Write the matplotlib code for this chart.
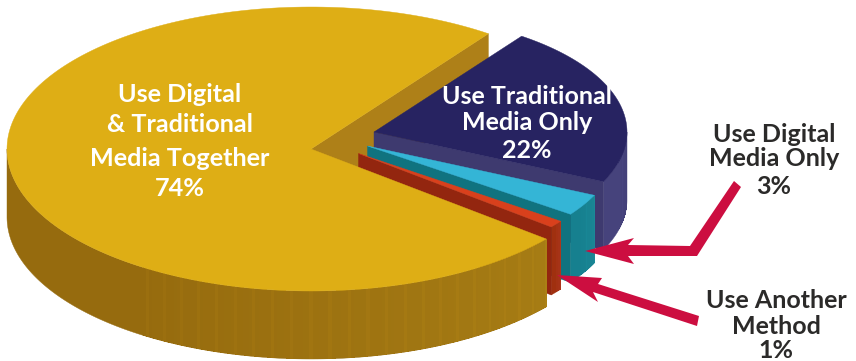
# Exploded 3D pie of how respondents combine digital and traditional media.

import numpy as np
import matplotlib
matplotlib.use('Agg')
import matplotlib.pyplot as plt
from matplotlib.colors import to_rgb

# shares in percent, clockwise from the back cut of the large slice
categories = ['Use Traditional Media Only', 'Use Digital Media Only',
              'Use Another Method', 'Use Digital & Traditional Media Together']
shares = [22, 3, 1, 74]
labels = ['22%', '3%', '1%', '74%']

START_ANGLE = 54.3
DEPTH = 68

# apex x, apex y, x radius, y radius for each slice
slice_geom = [
    (374, 132, 253, 118),
    (367.5, 146, 250, 117),
    (358.5, 153.5, 249, 116),
    (311, 149, 304, 142),
]
top_colors = ['#272361', '#34B5D6', '#D9401C', '#DEAE15']
cut_colors = ['#3E3A6F', '#10737F', '#93260F', '#AE8018']
rim_colors = [('#423F78', '#46437C'), ('#1A8594', '#16808F'),
              ('#A8341A', '#A0300F'), ('#A67C14', '#966B0E')]


def rim_points(geom, a0, a1, n):
    cx, cy, rx, ry = geom
    t = np.radians(np.linspace(a0, a1, n))
    return cx + rx*np.cos(t), cy - ry*np.sin(t)


def draw_cut(ax, geom, angle, color, z):
    cx, cy, rx, ry = geom
    x, y = rim_points(geom, angle, angle, 1)
    ax.fill([cx, x[0], x[0], cx], [cy, y[0], y[0]+DEPTH, cy+DEPTH], color=color, lw=0.3, zorder=z)


def draw_rim(ax, geom, a0, a1, colors, z):
    front0 = max(min(a0, a1), -180)
    front1 = min(max(a0, a1), 0)
    if front1 <= front0:
        return

    # smooth wall first, in the colour of its far end
    x, y = rim_points(geom, front1, front0, 200)
    ax.fill(np.r_[x, x[::-1]], np.r_[y, y[::-1]+DEPTH], color=colors[1], lw=0.3, zorder=z)

    # then aliased facets over the near part for the faint vertical grain
    n = max(int((front1-front0)/0.6), 2)
    edges = np.linspace(front1, front0, n+1)
    c0, c1 = np.array(to_rgb(colors[0])), np.array(to_rgb(colors[1]))
    for i in range(int(n*0.6)):
        x, y = rim_points(geom, edges[i], edges[i+1], 2)
        f = i/(n*0.6)
        c = c0*(1-f) + c1*f
        if i % 6 == 0:
            c = np.clip(c*1.03, 0, 1)
        ax.fill([x[0], x[1], x[1], x[0]], [y[0]+0.5, y[1]+0.5, y[1]+DEPTH-0.5, y[0]+DEPTH-0.5],
                color=c, lw=0, antialiased=False, zorder=z)


def draw_top(ax, geom, a0, a1, color, z):
    x, y = rim_points(geom, a0, a1, 200)
    ax.fill(np.r_[geom[0], x], np.r_[geom[1], y], color=color, lw=0.3, zorder=z)


def main():
    fig = plt.figure(figsize=(8.56, 3.61), dpi=100)
    ax = fig.add_axes([0, 0, 1, 1])
    ax.set_xlim(0, 856)
    ax.set_ylim(361, 0)
    ax.axis('off')

    plt.rcParams['font.family'] = ['Lato', 'DejaVu Sans']

    # angles run clockwise from the shared start
    stops = START_ANGLE - np.cumsum(shares)*3.6
    starts = np.r_[START_ANGLE, stops[:-1]]

    # back wall of the large slice sits behind everything
    draw_cut(ax, slice_geom[3], START_ANGLE, cut_colors[3], 1)

    for i in range(3):
        z = 2 + i
        draw_rim(ax, slice_geom[i], stops[i], starts[i], rim_colors[i], z)
        draw_cut(ax, slice_geom[i], stops[i], cut_colors[i], z)
        draw_top(ax, slice_geom[i], starts[i], stops[i], top_colors[i], z)

    draw_rim(ax, slice_geom[3], stops[3], starts[3], rim_colors[3], 6)
    draw_top(ax, slice_geom[3], starts[3], stops[3], top_colors[3], 6)

    # callout arrows
    arrow_a = [(585, 251), (634, 238), (628, 245), (690, 246), (734, 181),
               (741, 187), (697, 256), (628, 256), (634, 264)]
    arrow_b = [(557, 275), (602, 278), (598, 284), (699, 316), (697, 326),
               (593, 292), (598, 302)]
    for pts in (arrow_a, arrow_b):
        ax.fill(*zip(*pts), color='#CC0E40', lw=0, zorder=7)

    white = dict(color='white', ha='center', va='center', fontweight='bold', zorder=8)
    dark = dict(color='#2B2A29', ha='center', va='center', fontweight='bold', zorder=8)
    lines = [
        (180, 94, 'Use Digital', 18.2, white),
        (180, 125, '& Traditional', 18.2, white),
        (180, 158, 'Media Together', 18.2, white),
        (180, 189, labels[3], 18.2, white),
        (527, 96, 'Use Traditional', 18, white),
        (527, 123, 'Media Only', 18, white),
        (527, 150, labels[0], 18, white),
        (774, 134, 'Use Digital', 18, dark),
        (774, 159, 'Media Only', 18, dark),
        (774, 186, labels[1], 18, dark),
        (776, 300, 'Use Another', 18, dark),
        (776, 326, 'Method', 18, dark),
        (776, 350, labels[2], 18, dark),
    ]
    for x, y, s, size, style in lines:
        ax.text(x, y, s, fontsize=size, **style)

    fig.savefig('out.png', dpi=100)


if __name__ == '__main__':
    main()
